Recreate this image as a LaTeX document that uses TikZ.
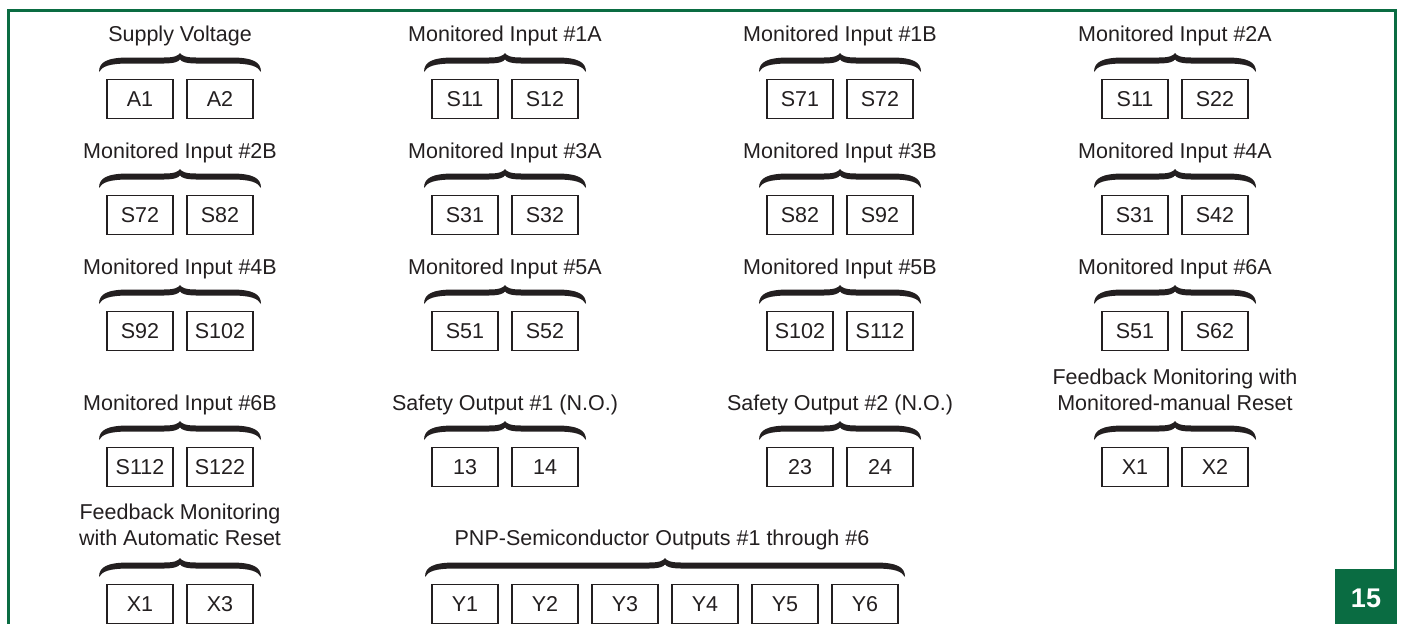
\documentclass[tikz,border=0pt]{standalone}
\usepackage{fontspec}
\setmainfont{Liberation Sans}
\definecolor{fgreen}{RGB}{10,108,66}
\definecolor{boxgray}{RGB}{35,31,32}
\tikzset{
  term/.style={draw=boxgray, line width=1.8pt, minimum width=66pt, minimum height=39pt, inner sep=0pt, font=\fontsize{21.5}{25}\selectfont, text=boxgray},
  ttl/.style={anchor=base, inner sep=0pt, font=\fontsize{21.5}{25}\selectfont, text=boxgray},
  brc/.style={fill=boxgray},
  frameline/.style={draw=fgreen, line width=3pt},
  pagebox/.style={fill=fgreen, text=white, font=\fontsize{27}{30}\selectfont\bfseries, minimum width=62pt, minimum height=58pt, inner sep=0pt}
}
\newcommand\myBrace[3]{%
  \pgfmathsetmacro\bxm{(#1+#2)/2}%
  \fill[brc] (#1,#3+19) .. controls (#1,#3+9) and (#1+8,#3+4.5) .. (#1+30,#3+4.5)
    -- (\bxm-16,#3+4.5) .. controls (\bxm-6,#3+4.5) and (\bxm-2,#3+3) .. (\bxm,#3)
    .. controls (\bxm+2,#3+3) and (\bxm+6,#3+4.5) .. (\bxm+16,#3+4.5)
    -- (#2-30,#3+4.5) .. controls (#2-8,#3+4.5) and (#2,#3+9) .. (#2,#3+19)
    .. controls (#2-3,#3+13.5) and (#2-10,#3+10.5) .. (#2-30,#3+10.5)
    -- (\bxm+16,#3+10.5) .. controls (\bxm+6,#3+10.5) and (\bxm+1,#3+8.5) .. (\bxm,#3+6.5)
    .. controls (\bxm-1,#3+8.5) and (\bxm-6,#3+10.5) .. (\bxm-16,#3+10.5)
    -- (#1+30,#3+10.5) .. controls (#1+10,#3+10.5) and (#1+3,#3+13.5) .. cycle;
}
% cx, cy (box centre), name, left label, right label
\newcommand\termPair[5]{%
  \node[term] (#3L) at (#1-40,#2) {#4};
  \node[term] (#3R) at (#1+40,#2) {#5};
  \myBrace{#1-81}{#1+81}{#2-46}
}
\begin{document}
\begin{tikzpicture}[x=1pt,y=-1pt]
\useasboundingbox (0,0) rectangle (1401,624);
\clip (0,0) rectangle (1401,624);
\fill[white] (0,0) rectangle (1401,624);
% frame
\draw[frameline] (8,640) -- (8,10) -- (1395,10) -- (1395,580);
\node[pagebox] (page) at (1366,598) {15};

% row 1
\termPair{180}{99}{sv}{A1}{A2}
\node[ttl] (svT) at (180,41) {Supply Voltage};
\termPair{505}{99}{mia}{S11}{S12}
\node[ttl] (miaT) at (505,41) {Monitored Input \#1A};
\termPair{840}{99}{mib}{S71}{S72}
\node[ttl] (mibT) at (840,41) {Monitored Input \#1B};
\termPair{1175}{99}{mic}{S11}{S22}
\node[ttl] (micT) at (1175,41) {Monitored Input \#2A};

% row 2
\termPair{180}{215}{mid}{S72}{S82}
\node[ttl] (midT) at (180,158) {Monitored Input \#2B};
\termPair{505}{215}{mie}{S31}{S32}
\node[ttl] (mieT) at (505,158) {Monitored Input \#3A};
\termPair{840}{215}{mif}{S82}{S92}
\node[ttl] (mifT) at (840,158) {Monitored Input \#3B};
\termPair{1175}{215}{mig}{S31}{S42}
\node[ttl] (migT) at (1175,158) {Monitored Input \#4A};

% row 3
\termPair{180}{331}{mih}{S92}{S102}
\node[ttl] (mihT) at (180,274) {Monitored Input \#4B};
\termPair{505}{331}{mii}{S51}{S52}
\node[ttl] (miiT) at (505,274) {Monitored Input \#5A};
\termPair{840}{331}{mij}{S102}{S112}
\node[ttl] (mijT) at (840,274) {Monitored Input \#5B};
\termPair{1175}{331}{mik}{S51}{S62}
\node[ttl] (mikT) at (1175,274) {Monitored Input \#6A};

% row 4
\termPair{180}{467}{mil}{S112}{S122}
\node[ttl] (milT) at (180,410) {Monitored Input \#6B};
\termPair{505}{467}{soa}{13}{14}
\node[ttl] (soaT) at (505,410) {Safety Output \#1 (N.O.)};
\termPair{840}{467}{sob}{23}{24}
\node[ttl] (sobT) at (840,410) {Safety Output \#2 (N.O.)};
\termPair{1175}{467}{fbm}{X1}{X2}
\node[ttl] (fbmT1) at (1175,384) {Feedback Monitoring with};
\node[ttl] (fbmT2) at (1175,410) {Monitored-manual Reset};

% row 5
\termPair{180}{604}{fba}{X1}{X3}
\node[ttl] (fbaT1) at (180,519) {Feedback Monitoring};
\node[ttl] (fbaT2) at (180,545) {with Automatic Reset};
\node[term] (y1) at (465,604) {Y1};
\node[term] (y2) at (545,604) {Y2};
\node[term] (y3) at (625,604) {Y3};
\node[term] (y4) at (705,604) {Y4};
\node[term] (y5) at (785,604) {Y5};
\node[term] (y6) at (865,604) {Y6};
\myBrace{425}{905}{558}
\node[ttl] (pnpT) at (662,545) {PNP-Semiconductor Outputs \#1 through \#6};
\end{tikzpicture}
\end{document}
